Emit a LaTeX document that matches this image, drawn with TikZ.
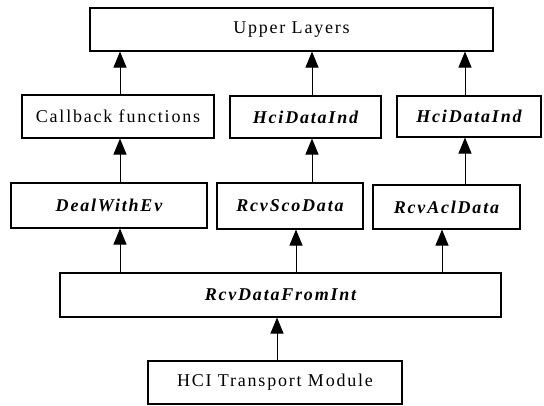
\documentclass[tikz,border=0pt]{standalone}
\usepackage{fontspec}
\setmainfont{Liberation Serif}[LetterSpace=10]
\usetikzlibrary{arrows.meta}
\tikzset{layer/.style={
    draw, line width=1.1pt, inner sep=0pt, minimum height=43pt,
    font=\fontsize{18}{21}\selectfont
    },
    func/.style={layer, font=\fontsize{18}{21}\selectfont\bfseries\itshape},
    uparrow/.style={-{Triangle[width=13pt,length=16pt]}, line width=1pt}
}

\begin{document}
\begin{tikzpicture}[x=1pt, y=-1pt]
        \useasboundingbox (0, 0) rectangle (544, 406);

        % top layer
        \node[layer, minimum width=403pt] (upper) at (291.5, 29.5) {Upper Layers};

        % second row
        \node[layer, minimum width=192pt] (callback) at (118, 116.5) {Callback functions};
        \node[func, minimum width=151pt, minimum height=42pt] (hcimid) at (305.5, 117) {HciDataInd};
        \node[func, minimum width=144pt, minimum height=41pt] (hciright) at (469, 116.5) {HciDataInd};

        % third row
        \node[func, minimum width=196pt, minimum height=45pt] (deal) at (109, 205.5) {DealWithEv};
        \node[func, minimum width=146pt, minimum height=46pt] (rcvsco) at (290, 206) {RcvScoData};
        \node[func, minimum width=147pt, minimum height=44pt] (rcvacl) at (446.5, 207) {RcvAclData};

        % bottom
        \node[func, minimum width=441pt, minimum height=44pt] (rcvint) at (280.5, 295) {RcvDataFromInt};
        \node[layer, minimum width=254pt] (transport) at (275, 382.5) {HCI Transport Module};

        % arrow columns
        \coordinate (colleft) at (120, 0);
        \coordinate (colmid) at (312, 0);
        \coordinate (colright) at (465, 0);
        \coordinate (colsco) at (296, 0);
        \coordinate (colacl) at (442, 0);
        \coordinate (coltrans) at (277, 0);

        \draw[uparrow] (callback.north -| colleft) -- (upper.south -| colleft);
        \draw[uparrow] (hcimid.north -| colmid) -- (upper.south -| colmid);
        \draw[uparrow] (hciright.north -| colright) -- (upper.south -| colright);

        \draw[uparrow] (deal.north -| colleft) -- (callback.south -| colleft);
        \draw[uparrow] (rcvsco.north -| colmid) -- (hcimid.south -| colmid);
        \draw[uparrow] (rcvacl.north -| colright) -- (hciright.south -| colright);

        \draw[uparrow] (rcvint.north -| colleft) -- (deal.south -| colleft);
        \draw[uparrow] (rcvint.north -| colsco) -- (rcvsco.south -| colsco);
        \draw[uparrow] (rcvint.north -| colacl) -- (rcvacl.south -| colacl);

        \draw[uparrow] (transport.north -| coltrans) -- (rcvint.south -| coltrans);
    \end{tikzpicture}
\end{document}
